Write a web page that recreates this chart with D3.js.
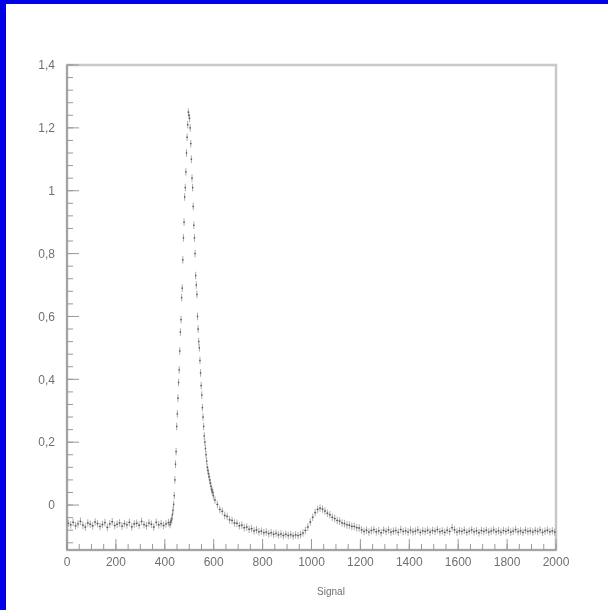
<!DOCTYPE html>
<html>
<head>
<meta charset="utf-8">
<style>
  body { margin: 0; background: #fff; }
  svg { display: block; filter: blur(0.5px); }
  .tick-label { font-family: "Liberation Sans", Arial, sans-serif; font-size: 12px; fill: #707070; }
  .axis-title { font-family: "Liberation Sans", Arial, sans-serif; font-size: 10px; fill: #707070; }
</style>
</head>
<body>
<svg width="608" height="610"></svg>
<script src="https://d3js.org/d3.v7.min.js"></script>
<script>
// histogram bins (bin centre, content)
// flat start, step 10
let baseX = [5, 15, 25, 35, 45, 55, 65, 75, 85, 95,
  105, 115, 125, 135, 145, 155, 165, 175, 185, 195,
  205, 215, 225, 235, 245, 255, 265, 275, 285, 295,
  305, 315, 325, 335, 345, 355, 365, 375, 385, 395,
  405, 415]
let baseY = [-0.058, -0.063, -0.055, -0.066, -0.060, -0.052, -0.064, -0.070, -0.057, -0.061,
  -0.066, -0.054, -0.059, -0.068, -0.062, -0.056, -0.071, -0.060, -0.053, -0.065,
  -0.061, -0.057, -0.067, -0.059, -0.063, -0.055, -0.069, -0.060, -0.058, -0.064,
  -0.052, -0.062, -0.066, -0.057, -0.061, -0.070, -0.055, -0.063, -0.059, -0.065,
  -0.060, -0.056]

// the big peak, step 2.5
let peakX = [421.25, 423.75, 426.25, 428.75, 431.25, 433.75, 436.25, 438.75, 441.25, 443.75,
  446.25, 448.75, 451.25, 453.75, 456.25, 458.75, 461.25, 463.75, 466.25, 468.75,
  471.25, 473.75, 476.25, 478.75, 481.25, 483.75, 486.25, 488.75, 491.25, 493.75,
  496.25, 498.75, 501.25, 503.75, 506.25, 508.75, 511.25, 513.75, 516.25, 518.75,
  521.25, 523.75, 526.25, 528.75, 531.25, 533.75, 536.25, 538.75, 541.25, 543.75,
  546.25, 548.75, 551.25, 553.75, 556.25, 558.75, 561.25, 563.75, 566.25, 568.75,
  571.25, 573.75, 576.25, 578.75, 581.25, 583.75, 586.25, 588.75, 591.25, 593.75,
  596.25, 598.75]
let peakY = [-0.062, -0.055, -0.050, -0.044, -0.030, -0.016, 0.002, 0.030, 0.080, 0.130,
  0.170, 0.250, 0.290, 0.340, 0.390, 0.430, 0.490, 0.550, 0.590, 0.660,
  0.690, 0.780, 0.850, 0.900, 0.980, 1.010, 1.060, 1.120, 1.170, 1.210,
  1.250, 1.240, 1.230, 1.200, 1.150, 1.100, 1.040, 1.010, 0.950, 0.890,
  0.850, 0.800, 0.730, 0.700, 0.670, 0.600, 0.560, 0.520, 0.500, 0.460,
  0.420, 0.380, 0.350, 0.310, 0.280, 0.250, 0.220, 0.200, 0.180, 0.160,
  0.140, 0.120, 0.110, 0.100, 0.090, 0.080, 0.070, 0.060, 0.050, 0.045,
  0.040, 0.030]

// tail and the second bump, step 10
let tailX = [605, 615, 625, 635, 645, 655, 665, 675, 685, 695,
  705, 715, 725, 735, 745, 755, 765, 775, 785, 795,
  805, 815, 825, 835, 845, 855, 865, 875, 885, 895,
  905, 915, 925, 935, 945, 955, 965, 975, 985, 995,
  1005, 1015, 1025, 1035, 1045, 1055, 1065, 1075, 1085, 1095,
  1105, 1115, 1125, 1135, 1145, 1155, 1165, 1175, 1185, 1195,
  1205, 1215, 1225, 1235, 1245, 1255, 1265, 1275, 1285, 1295,
  1305, 1315, 1325, 1335, 1345, 1355, 1365, 1375, 1385, 1395,
  1405, 1415, 1425, 1435, 1445, 1455, 1465, 1475, 1485, 1495,
  1505, 1515, 1525, 1535, 1545, 1555, 1565, 1575, 1585, 1595,
  1605, 1615, 1625, 1635, 1645, 1655, 1665, 1675, 1685, 1695,
  1705, 1715, 1725, 1735, 1745, 1755, 1765, 1775, 1785, 1795,
  1805, 1815, 1825, 1835, 1845, 1855, 1865, 1875, 1885, 1895,
  1905, 1915, 1925, 1935, 1945, 1955, 1965, 1975, 1985, 1995]
let tailY = [0.016, 0.002, -0.014, -0.020, -0.033, -0.036, -0.047, -0.049, -0.057, -0.058,
  -0.066, -0.064, -0.072, -0.070, -0.077, -0.075, -0.082, -0.079, -0.085, -0.083,
  -0.088, -0.086, -0.091, -0.088, -0.093, -0.090, -0.095, -0.092, -0.097, -0.093,
  -0.097, -0.094, -0.098, -0.095, -0.097, -0.094, -0.089, -0.081, -0.070, -0.054,
  -0.039, -0.024, -0.014, -0.010, -0.013, -0.019, -0.026, -0.031, -0.039, -0.043,
  -0.049, -0.051, -0.057, -0.059, -0.063, -0.064, -0.068, -0.068, -0.072, -0.073,
  -0.079, -0.084, -0.080, -0.086, -0.081, -0.078, -0.085, -0.082, -0.088, -0.080,
  -0.084, -0.079, -0.086, -0.083, -0.081, -0.087, -0.078, -0.084, -0.082, -0.086,
  -0.080, -0.085, -0.083, -0.079, -0.087, -0.082, -0.084, -0.080, -0.086, -0.081,
  -0.083, -0.078, -0.085, -0.082, -0.087, -0.080, -0.084, -0.072, -0.079, -0.086,
  -0.082, -0.084, -0.080, -0.087, -0.083, -0.079, -0.085, -0.082, -0.088, -0.081,
  -0.084, -0.080, -0.086, -0.083, -0.079, -0.085, -0.082, -0.087, -0.081, -0.084,
  -0.080, -0.086, -0.083, -0.078, -0.085, -0.082, -0.087, -0.080, -0.084, -0.082,
  -0.086, -0.081, -0.084, -0.079, -0.087, -0.083, -0.080, -0.085, -0.082, -0.086]

let errY = 0.012

let yTickValues = [0, 0.2, 0.4, 0.6, 0.8, 1, 1.2, 1.4]
let yTickLabels = ["0", "0,2", "0,4", "0,6", "0,8", "1", "1,2", "1,4"]
let xTickValues = [0, 200, 400, 600, 800, 1000, 1200, 1400, 1600, 1800, 2000]
let xTitle = "Signal"

let svg = d3.select("svg")

// blue edge of the window
svg.append("rect").attr("x", 0).attr("y", 0).attr("width", 608).attr("height", 4).style("fill", "#0000e6")
svg.append("rect").attr("x", 0).attr("y", 0).attr("width", 6).attr("height", 610).style("fill", "#0000e6")

let margin = { top: 65, right: 52, bottom: 60, left: 67 }
let width = 608
let height = 610

let x = d3.scaleLinear()
  .domain([0, 2000])
  .range([margin.left, width - margin.right])

let y = d3.scaleLinear()
  .domain([-0.143, 1.4])
  .range([height - margin.bottom, margin.top])

// frame
svg.append("rect")
  .attr("x", x(0)).attr("y", y(1.4))
  .attr("width", x(2000) - x(0)).attr("height", y(-0.143) - y(1.4))
  .style("fill", "none").style("stroke", "#c8c8c8").style("stroke-width", 2.5)

// points
let bins = []
baseX.forEach((d, i) => bins.push({ x: d, y: baseY[i], w: 5 }))
peakX.forEach((d, i) => bins.push({ x: d, y: peakY[i], w: 1.25 }))
tailX.forEach((d, i) => bins.push({ x: d, y: tailY[i], w: 5 }))

let pts = svg.append("g")
pts.selectAll(".eh").data(bins).join("line")
  .attr("x1", d => x(d.x - d.w)).attr("x2", d => x(d.x + d.w))
  .attr("y1", d => y(d.y)).attr("y2", d => y(d.y))
  .style("stroke", "#999").style("stroke-width", 0.8)
pts.selectAll(".ev").data(bins).join("line")
  .attr("x1", d => x(d.x)).attr("x2", d => x(d.x))
  .attr("y1", d => y(d.y - errY)).attr("y2", d => y(d.y + errY))
  .style("stroke", "#999").style("stroke-width", 0.8)
pts.selectAll(".dot").data(bins).join("rect")
  .attr("x", d => x(d.x) - 0.7).attr("y", d => y(d.y) - 0.7)
  .attr("width", 1.4).attr("height", 1.4)
  .style("fill", "#555")

// y axis
let yAxis = svg.append("g").attr("transform", `translate(${x(0)},0)`)
yAxis.append("line").attr("x1", 0).attr("x2", 0).attr("y1", y(-0.143)).attr("y2", y(1.4))
  .style("stroke", "#999").style("stroke-width", 1.5)
let yMinor = d3.range(-7, 36).map(k => k * 0.04).filter(v => v >= -0.143 && v <= 1.4001)
yAxis.selectAll(".ym").data(yMinor).join("line")
  .attr("x1", 0).attr("x2", 6).attr("y1", d => y(d)).attr("y2", d => y(d))
  .style("stroke", "#999")
yAxis.selectAll(".yM").data(yTickValues).join("line")
  .attr("x1", 0).attr("x2", 12).attr("y1", d => y(d)).attr("y2", d => y(d))
  .style("stroke", "#999")
yAxis.selectAll("text").data(yTickValues).join("text")
  .attr("class", "tick-label")
  .attr("x", -12).attr("y", d => y(d)).attr("dy", "0.35em")
  .style("text-anchor", "end")
  .text((d, i) => yTickLabels[i])

// x axis
let xAxis = svg.append("g").attr("transform", `translate(0,${y(-0.143)})`)
xAxis.append("line").attr("x1", x(0)).attr("x2", x(2000)).attr("y1", 0).attr("y2", 0)
  .style("stroke", "#999").style("stroke-width", 1.5)
let xMinor = d3.range(0, 2001, 50)
xAxis.selectAll(".xm").data(xMinor).join("line")
  .attr("x1", d => x(d)).attr("x2", d => x(d)).attr("y1", 0).attr("y2", -6)
  .style("stroke", "#999")
xAxis.selectAll(".xM").data(xTickValues).join("line")
  .attr("x1", d => x(d)).attr("x2", d => x(d)).attr("y1", 0).attr("y2", -11)
  .style("stroke", "#999")
xAxis.selectAll("text").data(xTickValues).join("text")
  .attr("class", "tick-label")
  .attr("x", d => x(d)).attr("y", 16)
  .style("text-anchor", "middle")
  .text(d => d)

svg.append("text")
  .attr("class", "axis-title")
  .attr("x", 331).attr("y", 595)
  .style("text-anchor", "middle")
  .text(xTitle)
</script>
</body>
</html>
